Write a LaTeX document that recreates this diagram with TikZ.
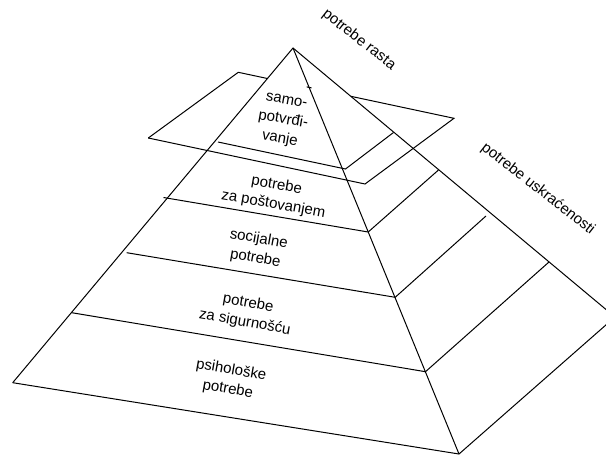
\documentclass[tikz,border=0pt]{standalone}
\usepackage{fontspec}
\setmainfont{Liberation Sans}
\usetikzlibrary{calc}
\begin{document}
\begin{tikzpicture}[x=1pt,y=-1pt,
  edge/.style={line width=1pt,line join=miter},
  layer/.style={font=\fontsize{15}{19.5}\selectfont,align=center,rotate=-10,inner sep=0pt},
  side/.style={font=\fontsize{15}{18}\selectfont,rotate=-38,inner sep=0pt}]
\useasboundingbox (0,0) rectangle (606,458);
\clip (0,0) rectangle (606,458);

% pyramid corners
\coordinate (apex)  at (293,48);
\coordinate (left)  at (12.7,382.7);
\coordinate (front) at (459,454);
\coordinate (right) at (615,317);

% level boundaries: start on the left face, corner on the front edge, end on the right face
\coordinate (a1) at (218,142);    \coordinate (a2) at (345.5,169);  \coordinate (a3) at (393.5,132.5);
\coordinate (b1) at (163.5,197.5);\coordinate (b2) at (368.2,232);  \coordinate (b3) at (438.5,170);
\coordinate (c1) at (126.7,252.7);\coordinate (c2) at (395.2,297.3);\coordinate (c3) at (486,216);
\coordinate (d1) at (71.7,312.7); \coordinate (d2) at (425.5,371.7);\coordinate (d3) at (549,262);

% cutting plane through the top level
\coordinate (p1) at (148.3,138);
\coordinate (p2) at (238.3,72.3);
\coordinate (p3) at (454,118.3);
\coordinate (p4) at (365,184);
\coordinate (hideL) at (intersection of apex--left and p2--p3);
\coordinate (hideR) at (intersection of apex--right and p2--p3);
\coordinate (tick)  at (intersection of apex--front and p2--p3);

% pyramid outline
\draw[edge] (left) -- (apex) -- (right);
\draw[edge] (apex) -- (front);
\draw[edge] (left) -- (front) -- (right);

% levels
\draw[edge] (a1) -- (a2) -- (a3);
\draw[edge] (b1) -- (b2) -- (b3);
\draw[edge] (c1) -- (c2) -- (c3);
\draw[edge] (d1) -- (d2) -- (d3);

% plane, its back edge hidden behind the pyramid
\draw[edge] (p1) -- (p2) -- (hideL);
\draw[edge] (hideR) -- (p3) -- (p4) -- (p1);
\draw[edge] ($(tick)!2.5pt!(p2)$) -- ($(tick)!2.5pt!(p3)$);

% level labels
\node[layer] (samo)        at (283,121)   {samo-\\potvrđi-\\vanje};
\node[layer] (postovanje)  at (275,195)   {potrebe\\za poštovanjem};
\node[layer] (socijalne)   at (257,249)   {socijalne\\potrebe};
\node[layer] (sigurnost)   at (246.5,313) {potrebe\\za sigurnošću};
\node[layer] (psiholoske)  at (229.5,380) {psihološke\\potrebe};

% group labels
\node[side] (rast)        at (359,40)  {potrebe rasta};
\node[side] (uskracenost) at (538,189) {potrebe uskraćenosti};
\end{tikzpicture}
\end{document}
